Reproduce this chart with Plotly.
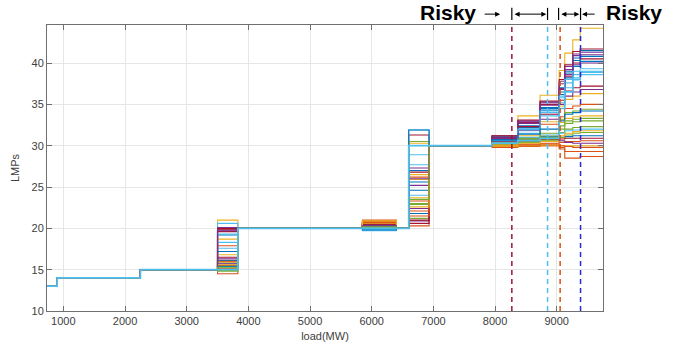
import plotly.graph_objects as go

# ---------------- data ----------------
# load break points (MW) where the step curves change value
load_breaks = [700, 900, 2250, 3500, 3830, 5850, 6400, 6600, 6930, 7950,
               8370, 8730, 9040, 9130, 9260, 9380, 9750]

# common LMP values (same for every bus) on the flat segments
lmp_700_900 = 13
lmp_900_2250 = 14
lmp_2250_3500 = 15
lmp_3830_5850 = 20
lmp_6400_6600 = 20
lmp_6930_7950 = 30

# per-bus LMPs on the congested segments (34 buses)
lmp_3500_3830 = [15.8, 14.5, 21.0, 19.8, 15.2, 20.6, 20.0, 16.1, 17.9, 18.7, 16.3, 14.9,
                 17.6, 19.6, 19.2, 15.5, 16.8, 15.7, 15.0, 18.3, 19.9, 15.4, 16.0, 15.9,
                 19.7, 14.8, 19.3, 16.5, 17.2, 15.1, 15.6, 20.1, 15.3, 15.0]
lmp_5850_6400 = [20.4, 21.0, 20.9, 20.6, 20.2, 19.8, 20.7, 19.9, 20.5, 20.8, 20.3, 20.1,
                 19.7, 20.6, 20.0, 20.9, 20.4, 20.5, 20.2, 19.9, 20.7, 20.3, 20.8, 20.6,
                 20.4, 20.1, 20.0, 20.5, 19.8, 20.7, 20.9, 20.3, 20.2, 20.0]
lmp_6600_6930 = [24.6, 20.3, 23.7, 27.3, 21.2, 28.9, 31.3, 21.8, 26.2, 30.3, 22.4, 22.9,
                 31.9, 26.8, 25.6, 23.3, 25.9, 20.9, 30.5, 24.0, 21.0, 27.0, 22.1, 26.5,
                 25.2, 23.0, 27.7, 20.6, 31.9, 21.5, 22.6, 26.0, 23.5, 30.0]
lmp_7950_8370 = [31.1, 29.8, 31.0, 31.2, 30.2, 30.6, 30.9, 30.8, 30.2, 30.4, 30.8, 30.3,
                 30.5, 31.2, 30.6, 29.9, 30.1, 31.0, 30.2, 30.5, 30.9, 30.7, 30.0, 29.9,
                 30.9, 30.3, 30.6, 30.4, 30.7, 30.0, 30.0, 30.5, 30.4, 30.3]
lmp_8370_8730 = [32.4, 29.9, 33.6, 33.0, 30.5, 31.8, 32.8, 32.2, 30.8, 31.2, 31.9, 30.6,
                 31.5, 33.1, 30.9, 30.0, 30.8, 32.9, 30.4, 31.0, 32.3, 32.0, 30.2, 30.0,
                 32.7, 30.9, 32.0, 30.6, 31.4, 30.1, 30.3, 30.7, 30.7, 30.6]
lmp_8730_9040 = [34.6, 30.0, 36.1, 35.3, 30.8, 34.0, 35.0, 34.5, 32.6, 32.9, 33.2, 30.7,
                 33.6, 35.4, 31.1, 30.0, 31.2, 35.2, 30.6, 31.3, 33.8, 34.3, 30.3, 30.1,
                 34.9, 31.5, 34.2, 30.8, 32.0, 30.2, 30.5, 30.9, 31.0, 30.9]
lmp_9040_9130 = [37.0, 29.6, 39.1, 37.8, 32.0, 35.8, 36.8, 36.5, 33.5, 34.8, 35.0, 31.6,
                 35.2, 38.0, 31.0, 29.8, 32.8, 37.5, 31.0, 31.5, 35.5, 36.2, 30.4, 30.0,
                 36.9, 33.2, 36.0, 30.8, 33.0, 30.0, 31.2, 30.6, 32.4, 34.5]
lmp_9130_9260 = [39.0, 28.5, 41.2, 39.6, 32.7, 37.6, 38.4, 38.8, 34.5, 35.6, 36.0, 32.0,
                 37.0, 39.8, 31.1, 29.3, 33.3, 39.2, 31.3, 31.8, 36.6, 38.2, 30.5, 30.0,
                 38.6, 34.0, 38.0, 30.9, 33.8, 29.9, 31.5, 30.4, 33.0, 36.5]
lmp_9260_9380 = [40.6, 28.5, 42.8, 40.9, 32.9, 38.6, 40.0, 40.3, 34.8, 36.0, 36.5, 32.2,
                 38.2, 41.4, 31.2, 29.3, 33.5, 41.1, 31.5, 31.9, 37.0, 39.6, 30.5, 30.0,
                 39.8, 34.2, 39.0, 30.9, 34.0, 29.8, 31.7, 30.3, 33.2, 38.0]
lmp_9380_9750 = [41.5, 28.7, 44.2, 41.0, 33.0, 39.0, 40.5, 40.8, 35.0, 36.3, 36.8, 32.3,
                 38.6, 41.7, 31.2, 29.3, 33.6, 41.3, 31.6, 32.0, 37.2, 40.2, 30.6, 30.0,
                 40.0, 34.4, 39.3, 30.9, 34.2, 29.8, 31.8, 30.3, 33.3, 38.9]

# vertical dashed markers (MW)
marker_loads = [8272, 8851, 9055, 9386]
marker_colors = ["#A2142F", "#4DBEEE", "#D95319", "#2A2AD0"]
risky_bounds = [8272, 8851, 9030, 9386]

matlab_colors = ["#0072BD", "#D95319", "#EDB120", "#7E2F8E",
                 "#77AC30", "#4DBEEE", "#A2142F"]

# ---------------- figure ----------------
fig = go.Figure()
n_bus = len(lmp_3500_3830)
for i in range(n_bus):
    seg_vals = [lmp_700_900, lmp_900_2250, lmp_2250_3500, lmp_3500_3830[i],
                lmp_3830_5850, lmp_5850_6400[i], lmp_6400_6600, lmp_6600_6930[i],
                lmp_6930_7950, lmp_7950_8370[i], lmp_8370_8730[i], lmp_8730_9040[i],
                lmp_9040_9130[i], lmp_9130_9260[i], lmp_9260_9380[i], lmp_9380_9750[i]]
    ys = seg_vals + [seg_vals[-1]]
    last = (i == n_bus - 1)
    fig.add_trace(go.Scatter(
        x=load_breaks, y=ys, mode="lines", line_shape="hv",
        line=dict(color=matlab_colors[i % 7], width=1.7 if last else 1.1),
        showlegend=False, hoverinfo="skip"))

for xv, col in zip(marker_loads, marker_colors):
    fig.add_trace(go.Scatter(
        x=[xv, xv], y=[10, 44.6], mode="lines",
        line=dict(color=col, width=1.5, dash="5px,4px"),
        showlegend=False, hoverinfo="skip"))

axis_common = dict(
    showline=True, linecolor="#707070", linewidth=1, mirror="ticks",
    ticks="inside", ticklen=5, tickcolor="#707070",
    showgrid=True, gridcolor="#E6E6E6", gridwidth=1, zeroline=False,
    tickfont=dict(family="Liberation Sans, Arial", size=11, color="#404040"),
)

fig.update_xaxes(range=[735, 9750], tickvals=[1000, 2000, 3000, 4000, 5000, 6000, 7000, 8000, 9000],
                 title=dict(text="load(MW)", standoff=6,
                            font=dict(family="Liberation Sans, Arial", size=11, color="#404040")),
                 **axis_common)
fig.update_yaxes(range=[10, 44.6], tickvals=[10, 15, 20, 25, 30, 35, 40],
                 title=dict(text="LMPs", standoff=9,
                            font=dict(family="Liberation Sans, Arial", size=11, color="#404040")),
                 **axis_common)

# annotations: "Risky" labels and bracket arrows above the plot
ann = []
bar_y0, bar_y1, arr_y = 1.0175, 1.06, 1.038
risky_font = dict(family="Liberation Sans, Arial", size=21, color="black")
ann.append(dict(xref="paper", yref="paper", x=0.775, y=1.045, text="<b>Risky</b>",
                showarrow=False, xanchor="right", yanchor="middle", font=risky_font))
ann.append(dict(xref="paper", yref="paper", x=1.002, y=1.045, text="<b>Risky</b>",
                showarrow=False, xanchor="left", yanchor="middle", font=risky_font))
# left single arrow pointing right
ann.append(dict(xref="x", yref="paper", x=risky_bounds[0] - 190, y=arr_y, text="",
                showarrow=True, ax=-17, ay=0, arrowhead=2, arrowsize=1, arrowwidth=1,
                arrowcolor="black", standoff=0))
# double arrows between the bars
for a, b in [(risky_bounds[0], risky_bounds[1]), (risky_bounds[2], risky_bounds[3])]:
    px = (b - a) / 1000 * 61.7
    ann.append(dict(xref="x", yref="paper", x=b - 20, y=arr_y, text="",
                    showarrow=True, ax=-(px - 2.5), ay=0, arrowhead=2, arrowsize=1,
                    arrowwidth=1, arrowcolor="black", arrowside="end+start",
                    standoff=0, startstandoff=0))
# right single arrow pointing left
ann.append(dict(xref="x", yref="paper", x=risky_bounds[3] + 25, y=arr_y, text="",
                showarrow=True, ax=14, ay=0, arrowhead=2, arrowsize=1, arrowwidth=1,
                arrowcolor="black", standoff=0))

shapes = []
for xb in risky_bounds:
    shapes.append(dict(type="line", xref="x", yref="paper", x0=xb, x1=xb,
                       y0=bar_y0, y1=bar_y1, line=dict(color="black", width=1.2)))

fig.update_layout(
    width=679, height=354,
    margin=dict(l=47, r=76, t=25, b=43),
    paper_bgcolor="white", plot_bgcolor="white",
    annotations=ann, shapes=shapes,
)

fig.write_html("out.html")
